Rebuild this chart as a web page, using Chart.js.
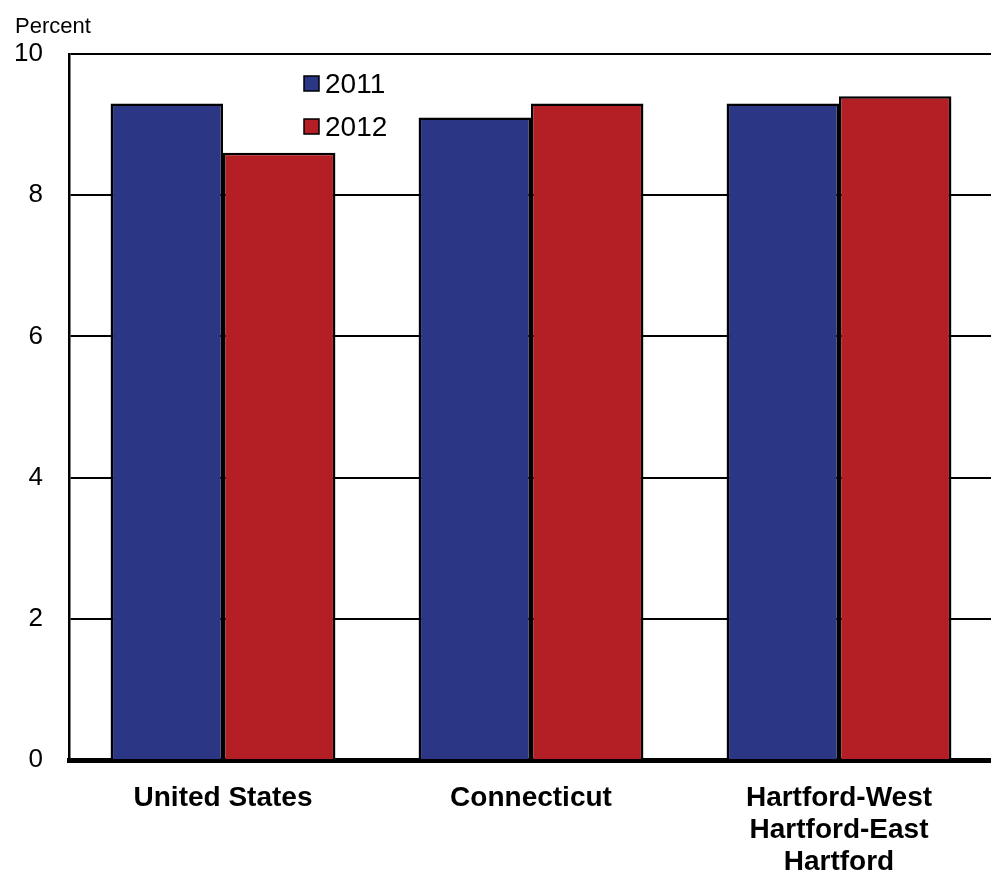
<!DOCTYPE html>
<html>
<head>
<meta charset="utf-8">
<script src="https://cdn.jsdelivr.net/npm/chart.js@4.4.0/dist/chart.umd.min.js"></script>
<style>
  html, body { margin: 0; padding: 0; background: #fff; overflow: hidden; }
  canvas { display: block; }
</style>
</head>
<body>
<canvas id="barChart" width="1000" height="871"></canvas>
<script>
// 資料
const regions = [["United States"], ["Connecticut"], ["Hartford-West", "Hartford-East", "Hartford"]];
const years = ["2011", "2012"];
const rate2011 = [9.3, 9.1, 9.3];
const rate2012 = [8.6, 9.3, 9.4];
const yTicks = [0, 2, 4, 6, 8, 10];

const blue = "#2b3784";
const red = "#b31f25";
const fontFam = "Arial, 'Liberation Sans', Helvetica, sans-serif";

// Percent 標題 + 圖例
const extras = {
  id: "extras",
  afterDraw(chart) {
    const ctx = chart.ctx;
    ctx.save();
    ctx.fillStyle = "#000";
    ctx.font = "22px " + fontFam;
    ctx.textBaseline = "middle";
    ctx.textAlign = "left";
    ctx.fillText("Percent", 15, 27);

    chart.data.datasets.forEach(function (ds, i) {
      const y = 84 + i * 43;
      ctx.fillStyle = ds.backgroundColor;
      ctx.fillRect(304, y - 8, 15, 15);
      ctx.strokeStyle = "#000";
      ctx.lineWidth = 1.5;
      ctx.strokeRect(304, y - 8, 15, 15);
      ctx.fillStyle = "#000";
      ctx.font = "28px " + fontFam;
      ctx.fillText(ds.label, 325, y + 1);
    });
    ctx.restore();
  }
};

new Chart(document.getElementById("barChart"), {
  type: "bar",
  data: {
    labels: regions,
    datasets: [
      { label: years[0], data: rate2011, backgroundColor: blue, borderColor: "#000", borderWidth: 2.5, borderSkipped: "bottom" },
      { label: years[1], data: rate2012, backgroundColor: red, borderColor: "#000", borderWidth: 2.5, borderSkipped: "bottom" }
    ]
  },
  options: {
    responsive: false,
    animation: false,
    devicePixelRatio: 1,
    layout: { padding: { left: 0, right: 7, top: 54, bottom: 0 } },
    datasets: { bar: { categoryPercentage: 0.73, barPercentage: 1.0 } },
    plugins: { legend: { display: false }, tooltip: { enabled: false } },
    scales: {
      x: {
        grid: { display: false, drawTicks: false },
        border: { display: true, color: "#000", width: 5 },
        ticks: {
          color: "#000",
          padding: 22,
          maxRotation: 0,
          font: { family: fontFam, size: 28, weight: "bold", lineHeight: 1.15 }
        },
        afterFit(s) { s.height = 111; }
      },
      y: {
        min: 0,
        max: 10,
        afterBuildTicks(s) { s.ticks = yTicks.map(v => ({ value: v })); },
        grid: { color: "#000", lineWidth: 2, drawTicks: false },
        border: { display: true, color: "#000", width: 2.5 },
        ticks: {
          color: "#000",
          padding: 26,
          font: { family: fontFam, size: 26 }
        },
        afterFit(s) { s.width = 69; }
      }
    }
  },
  plugins: [extras]
});
</script>
</body>
</html>
